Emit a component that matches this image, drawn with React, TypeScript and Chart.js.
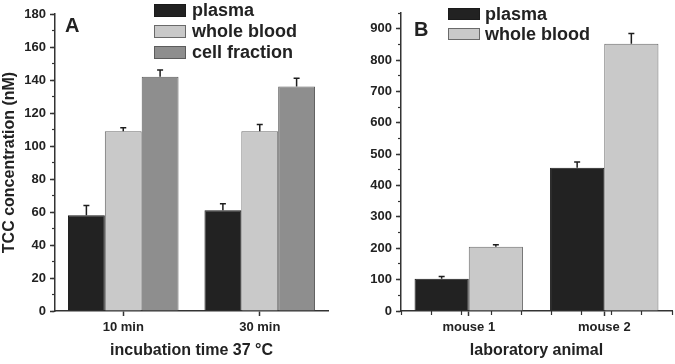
import React, { useEffect, useRef } from "react";
import { Chart, registerables } from "chart.js";

Chart.register(...registerables);

const FONT = '"Liberation Sans", Arial, Helvetica, sans-serif';

// ---- Panel A data ----
const categoriesA = ["10 min", "30 min"];
const plasmaA = [58, 61];
const plasmaErrA = [6, 4];
const wholeBloodA = [109, 109];
const wholeBloodErrA = [2, 4];
const cellFractionA = [142, 136];
const cellFractionErrA = [4, 5];
const yMaxA = 180;
const yStepA = 20;
const yMinorStepA = 10;

// ---- Panel B data ----
const categoriesB = ["mouse 1", "mouse 2"];
const plasmaB = [103, 457];
const plasmaErrB = [7, 18];
const wholeBloodB = [205, 852];
const wholeBloodErrB = [6, 33];
const yMaxB = 950;
const yStepB = 100;
const yMinorStepB = 50;

const seriesNames = ["plasma", "whole blood", "cell fraction"];
const seriesFill = ["#222222", "#c9c9c9", "#8e8e8e"];
const seriesBorder = ["#1a1a1a", "#6a6a6a", "#5c5c5c"];

const errorBarPlugin = {
  id: "errorBars",
  afterDatasetsDraw(chart: any) {
    const ctx = chart.ctx;
    const y = chart.scales.y;
    chart.data.datasets.forEach((ds: any, i: number) => {
      const errs = ds.errors;
      if (!errs) return;
      const meta = chart.getDatasetMeta(i);
      meta.data.forEach((el: any, j: number) => {
        const top = y.getPixelForValue(ds.data[j] + errs[j]);
        ctx.save();
        ctx.strokeStyle = "#1e1e1e";
        ctx.lineWidth = 1.5;
        ctx.beginPath();
        ctx.moveTo(el.x, el.y);
        ctx.lineTo(el.x, top);
        ctx.moveTo(el.x - 3, top);
        ctx.lineTo(el.x + 3, top);
        ctx.stroke();
        ctx.restore();
      });
    });
  },
};

const panelLegendPlugin = {
  id: "panelLegend",
  afterDraw(chart: any, _args: any, opts: any) {
    const ctx = chart.ctx;
    ctx.save();
    chart.data.datasets.forEach((ds: any, i: number) => {
      const top = opts.top + i * opts.rowH;
      ctx.fillStyle = ds.backgroundColor;
      ctx.fillRect(opts.boxX, top, opts.boxW, opts.boxH);
      ctx.strokeStyle = ds.borderColor;
      ctx.lineWidth = 1;
      ctx.strokeRect(opts.boxX + 0.5, top + 0.5, opts.boxW - 1, opts.boxH - 1);
      ctx.fillStyle = "#222";
      ctx.font = `bold 18px ${FONT}`;
      ctx.textBaseline = "middle";
      ctx.textAlign = "left";
      ctx.fillText(ds.label, opts.textX, top + opts.boxH / 2 + 1);
    });
    ctx.fillStyle = "#222";
    ctx.font = `bold 20px ${FONT}`;
    ctx.textBaseline = "alphabetic";
    ctx.textAlign = "left";
    ctx.fillText(opts.letter, opts.letterX, opts.letterY);
    ctx.restore();
  },
};

function makeConfig(p: any): any {
  const datasets = p.series.map((s: any, i: number) => ({
    label: seriesNames[i],
    data: s.data,
    errors: s.err,
    backgroundColor: seriesFill[i],
    borderColor: seriesBorder[i],
    borderWidth: 1,
    xAxisID: "x",
    yAxisID: "y",
    categoryPercentage: p.catPct,
    barPercentage: 1,
  }));
  const scales: any = {
    x: {
      type: "category",
      position: "bottom",
      weight: 1,
      offset: true,
      grid: {
        offset: false,
        drawOnChartArea: false,
        drawTicks: true,
        tickLength: 5,
        tickWidth: 1.5,
        tickColor: "#333",
      },
      border: { display: true, color: "#333", width: 1.5 },
      ticks: {
        font: { family: FONT, size: 13, weight: "bold" },
        color: "#222",
        padding: 4,
      },
      title: {
        display: true,
        text: p.xTitle,
        font: { family: FONT, size: 16, weight: "bold" },
        color: "#222",
        padding: { top: 4, bottom: 4 },
      },
      afterFit: (s: any) => {
        s.height = 53;
      },
    },
    y: {
      type: "linear",
      position: "left",
      weight: 1,
      min: 0,
      max: p.yMax,
      ticks: {
        stepSize: p.yStep,
        font: { family: FONT, size: 13, weight: "bold" },
        color: "#222",
        padding: 4,
      },
      afterBuildTicks: (s: any) => {
        s.ticks = s.ticks.filter((t: any) => t.value % p.yStep === 0);
      },
      grid: {
        drawOnChartArea: false,
        drawTicks: true,
        tickLength: 5,
        tickWidth: 1.5,
        tickColor: "#333",
      },
      border: { display: true, color: "#333", width: 1.5 },
      title: p.yTitle
        ? {
            display: true,
            text: p.yTitle,
            font: { family: FONT, size: 16, weight: "bold" },
            color: "#222",
            padding: { top: 0, bottom: 0 },
          }
        : { display: false },
      afterFit: (s: any) => {
        s.width = p.yWidth;
      },
    },
    yMinor: {
      type: "linear",
      position: "left",
      weight: 0,
      min: 0,
      max: p.yMax,
      ticks: { display: false, stepSize: p.yMinorStep },
      grid: {
        drawOnChartArea: false,
        drawTicks: true,
        tickLength: 3,
        tickWidth: 1.2,
        tickColor: "#333",
      },
      border: { display: false },
      afterFit: (s: any) => {
        s.width = 0;
      },
    },
  };
  if (p.xMinorDivisions) {
    scales.xMinor = {
      type: "linear",
      position: "bottom",
      weight: 0,
      min: 0,
      max: p.xMinorDivisions,
      ticks: { display: false, stepSize: 1 },
      grid: {
        drawOnChartArea: false,
        drawTicks: true,
        tickLength: 4,
        tickWidth: 1.2,
        tickColor: "#333",
      },
      border: { display: false },
      afterFit: (s: any) => {
        s.height = 0;
      },
    };
  }
  return {
    type: "bar",
    data: { labels: p.labels, datasets },
    plugins: [errorBarPlugin, panelLegendPlugin],
    options: {
      responsive: false,
      animation: false,
      layout: { padding: p.padding },
      scales,
      plugins: {
        legend: { display: false },
        tooltip: { enabled: false },
        panelLegend: p.legend,
      },
    },
  };
}

function Panel({ config, left, width }: any) {
  const ref = useRef<HTMLCanvasElement | null>(null);
  useEffect(() => {
    if (!ref.current) return;
    const chart = new Chart(ref.current, config);
    return () => chart.destroy();
  }, []);
  return (
    <canvas
      ref={ref}
      width={width}
      height={364}
      style={{ position: "absolute", left, top: 0, width, height: 364, display: "block" }}
    />
  );
}

export default function App() {
  const configA = makeConfig({
    labels: categoriesA,
    series: [
      { data: plasmaA, err: plasmaErrA },
      { data: wholeBloodA, err: wholeBloodErrA },
      { data: cellFractionA, err: cellFractionErrA },
    ],
    catPct: 0.81,
    yMax: yMaxA,
    yStep: yStepA,
    yMinorStep: yMinorStepA,
    yWidth: 55,
    yTitle: "TCC concentration (nM)",
    xTitle: "incubation time 37 °C",
    padding: { top: 14, right: 12, bottom: 0, left: 0 },
    legend: { boxX: 154, top: 4, rowH: 21, boxW: 32, boxH: 13, textX: 192, letter: "A", letterX: 65, letterY: 32 },
  });
  const configB = makeConfig({
    labels: categoriesB,
    series: [
      { data: plasmaB, err: plasmaErrB },
      { data: wholeBloodB, err: wholeBloodErrB },
    ],
    catPct: 0.8,
    yMax: yMaxB,
    yStep: yStepB,
    yMinorStep: yMinorStepB,
    yWidth: 61,
    yTitle: "",
    xTitle: "laboratory animal",
    xMinorDivisions: 8,
    padding: { top: 13, right: 3, bottom: 0, left: 0 },
    legend: { boxX: 108, top: 8, rowH: 20, boxW: 32, boxH: 12, textX: 145, letter: "B", letterX: 74, letterY: 36 },
  });
  return (
    <div style={{ position: "fixed", left: 0, top: 0, width: 675, height: 364, background: "#fff", overflow: "hidden" }}>
      <Panel config={configA} left={0} width={340} />
      <Panel config={configB} left={340} width={335} />
    </div>
  );
}
